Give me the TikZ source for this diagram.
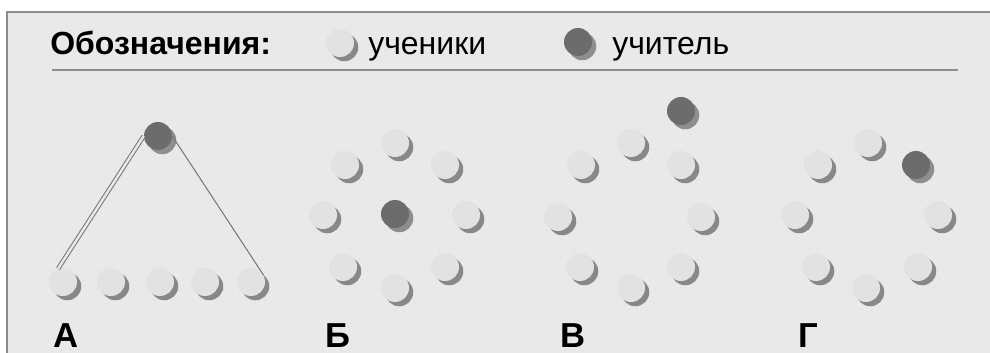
\documentclass[tikz,border=0pt]{standalone}
\usepackage{fontspec}
\setmainfont{Liberation Sans}
\usepackage{tikz}
\usetikzlibrary{shadows}
\definecolor{panelbg}{HTML}{E9E9E9}
\definecolor{panelline}{HTML}{8C8C8C}
\definecolor{dotgray}{HTML}{D9D9D9}
\definecolor{stufill}{HTML}{E2E2E2}
\definecolor{stushadow}{HTML}{888888}
\definecolor{teachfill}{HTML}{6C6C6C}
\definecolor{teachshadow}{HTML}{8E8E8E}
\definecolor{linkgray}{HTML}{7A7A7A}

\begin{document}
\begin{tikzpicture}[x=0.75pt,y=-0.75pt,
		student/.style={circle,minimum size=21pt,inner sep=0pt,fill=stufill,
			drop shadow={shadow xshift=3.2pt,shadow yshift=-3.2pt,fill=stushadow,opacity=1}},
		teacher/.style={circle,minimum size=21pt,inner sep=0pt,fill=teachfill,
			drop shadow={shadow xshift=3.2pt,shadow yshift=-3.2pt,fill=teachshadow,opacity=1}},
		legtext/.style={font=\fontsize{24}{24}\selectfont,anchor=base west,inner sep=0pt},
		grouplabel/.style={font=\bfseries\fontsize{26}{26}\selectfont,anchor=base west,inner sep=0pt},
		link/.style={draw=linkgray,line width=0.8pt}]
		\useasboundingbox (0,0) rectangle (990,353);
		
		% panel with dotted texture
		\fill[panelbg] (7,12) rectangle (990,353);
		\foreach \r in {0,...,33}
			\foreach \c in {0,...,108}
				\fill[dotgray] ({12+9*\c+4.5*mod(\r,2)},{20+10*\r}) circle (0.5pt);
		\draw[panelline,line width=1.1pt] (7,353) -- (7,12) -- (990,12);
		
		% legend
		\node[legtext,font=\bfseries\fontsize{24}{24}\selectfont] (legTitle) at (50,55) {Обозначения:};
		\node[student] (legS) at (340,43) {};
		\node[legtext] (legSText) at (368,55) {ученики};
		\node[teacher] (legT) at (578,42) {};
		\node[legtext] (legTText) at (612,55) {учитель};
		\draw[panelline,line width=1.5pt] (52,70) -- (958,70);
		
		% A
		\node[teacher] (tA) at (158,136) {};
		\node[student] (sA1) at (63,282) {};
		\node[student] (sA2) at (111,282) {};
		\node[student] (sA3) at (160,282) {};
		\node[student] (sA4) at (205,282) {};
		\node[student] (sA5) at (251,282) {};
		\draw[link,double=panelbg,double distance=1.8pt] (tA.west) -- (sA1.110);
		\draw[link] (tA.east) -- (sA5.30);
		\node[grouplabel] (labA) at (53,347) {А};
		
		% B
		\node[teacher] (tB) at (395,214) {};
		\node[student] (sB1) at (395,143) {};
		\node[student] (sB2) at (445,165) {};
		\node[student] (sB3) at (466,215) {};
		\node[student] (sB4) at (445,267) {};
		\node[student] (sB5) at (395,288) {};
		\node[student] (sB6) at (343,267) {};
		\node[student] (sB7) at (323,215) {};
		\node[student] (sB8) at (345,165) {};
		\node[grouplabel] (labB) at (325,347) {Б};
		
		% V
		\node[teacher] (tV) at (681,111) {};
		\node[student] (sV1) at (631,143) {};
		\node[student] (sV2) at (681,165) {};
		\node[student] (sV3) at (701,217) {};
		\node[student] (sV4) at (681,267) {};
		\node[student] (sV5) at (631,288) {};
		\node[student] (sV6) at (580,267) {};
		\node[student] (sV7) at (558,217) {};
		\node[student] (sV8) at (581,165) {};
		\node[grouplabel] (labV) at (560,347) {В};
		
		% G
		\node[student] (sG1) at (868,143) {};
		\node[teacher] (tG) at (916,165) {};
		\node[student] (sG3) at (938,215) {};
		\node[student] (sG4) at (918,267) {};
		\node[student] (sG5) at (866,288) {};
		\node[student] (sG6) at (816,267) {};
		\node[student] (sG7) at (795,215) {};
		\node[student] (sG8) at (818,165) {};
		\node[grouplabel] (labG) at (798,347) {Г};
\end{tikzpicture}
\end{document}
